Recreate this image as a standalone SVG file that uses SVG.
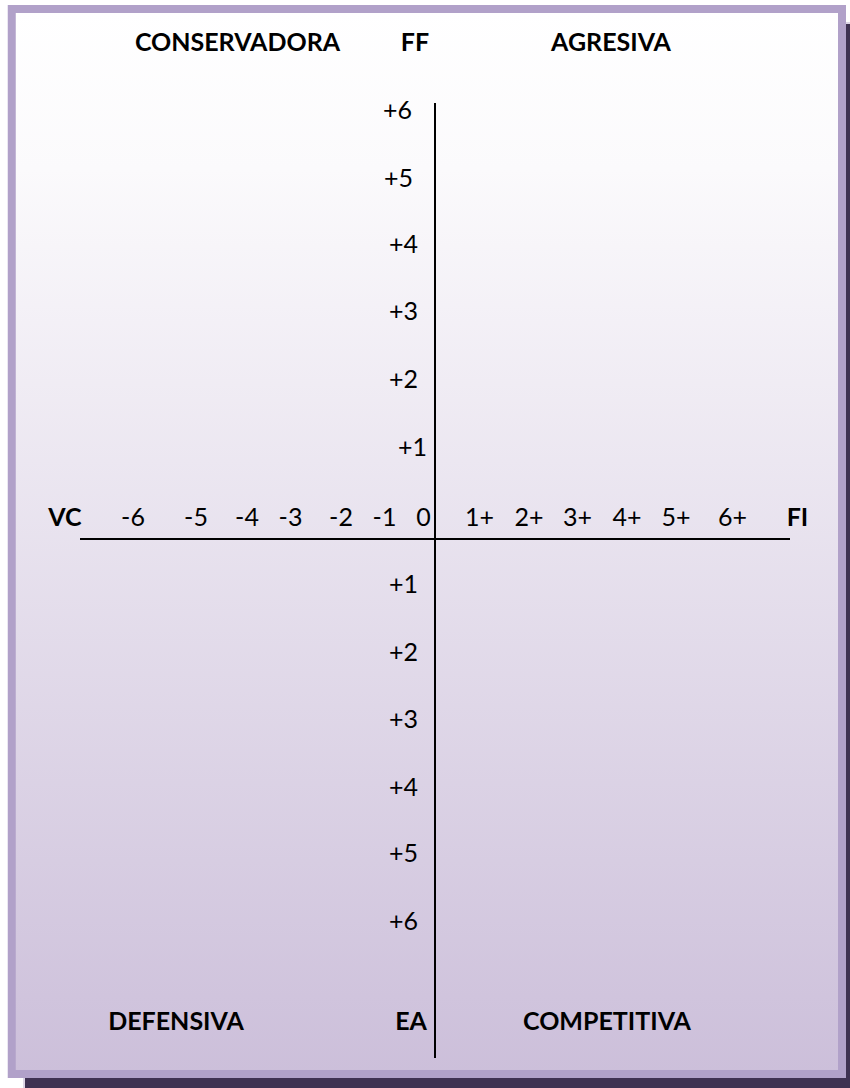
<svg xmlns="http://www.w3.org/2000/svg" width="850" height="1088" viewBox="0 0 850 1088">
<defs>
<linearGradient id="bg" x1="0" y1="0" x2="0" y2="1">
<stop offset="0" stop-color="#ffffff"/>
<stop offset="0.15" stop-color="#fbfafc"/>
<stop offset="1" stop-color="#ccbfda"/>
</linearGradient>
<style>
.t{font-family:Lato,"Open Sans","Liberation Sans",sans-serif;font-size:25px;fill:#000}
.b{font-weight:bold}
.ax{stroke:#000;stroke-width:2;fill:none}
</style>
</defs>
<g id="frame">
<rect x="24" y="23" width="840" height="1080" fill="#3f3252" stroke="#ddd6e6" stroke-width="2"/>
<rect x="11.75" y="9" width="830.25" height="1065" fill="url(#bg)" stroke="#b1a1c9" stroke-width="8"/>
</g>
<g id="connectors">
<line class="ax" x1="435" y1="103" x2="435" y2="1058"/>
<line class="ax" x1="80" y1="539" x2="790" y2="539"/>
</g>
<g id="quadrant-labels">
<text class="t b" x="237.5" y="51" text-anchor="middle">CONSERVADORA</text>
<text class="t b" x="415" y="51" text-anchor="middle">FF</text>
<text class="t b" x="611" y="51" text-anchor="middle">AGRESIVA</text>
<text class="t b" x="176" y="1030" text-anchor="middle">DEFENSIVA</text>
<text class="t b" x="411" y="1030" text-anchor="middle">EA</text>
<text class="t b" x="607" y="1030" text-anchor="middle">COMPETITIVA</text>
<text class="t b" x="65" y="526" text-anchor="middle">VC</text>
<text class="t b" x="797.5" y="526" text-anchor="middle">FI</text>
</g>
<g id="y-upper">
<text class="t" x="383" y="119">+6</text>
<text class="t" x="384" y="187">+5</text>
<text class="t" x="389" y="253">+4</text>
<text class="t" x="389" y="320">+3</text>
<text class="t" x="389" y="388">+2</text>
<text class="t" x="398" y="456">+1</text>
</g>
<g id="y-lower">
<text class="t" x="389" y="593">+1</text>
<text class="t" x="389" y="661">+2</text>
<text class="t" x="389" y="728">+3</text>
<text class="t" x="389" y="796">+4</text>
<text class="t" x="389" y="862">+5</text>
<text class="t" x="389" y="930">+6</text>
</g>
<g id="x-labels">
<text class="t" x="133" y="526" text-anchor="middle">-6</text>
<text class="t" x="196" y="526" text-anchor="middle">-5</text>
<text class="t" x="247" y="526" text-anchor="middle">-4</text>
<text class="t" x="290.5" y="526" text-anchor="middle">-3</text>
<text class="t" x="341" y="526" text-anchor="middle">-2</text>
<text class="t" x="384.5" y="526" text-anchor="middle">-1</text>
<text class="t" x="423.5" y="526" text-anchor="middle">0</text>
<text class="t" x="479.5" y="526" text-anchor="middle">1+</text>
<text class="t" x="529" y="526" text-anchor="middle">2+</text>
<text class="t" x="577.5" y="526" text-anchor="middle">3+</text>
<text class="t" x="627" y="526" text-anchor="middle">4+</text>
<text class="t" x="676" y="526" text-anchor="middle">5+</text>
<text class="t" x="732.5" y="526" text-anchor="middle">6+</text>
</g>
</svg>
